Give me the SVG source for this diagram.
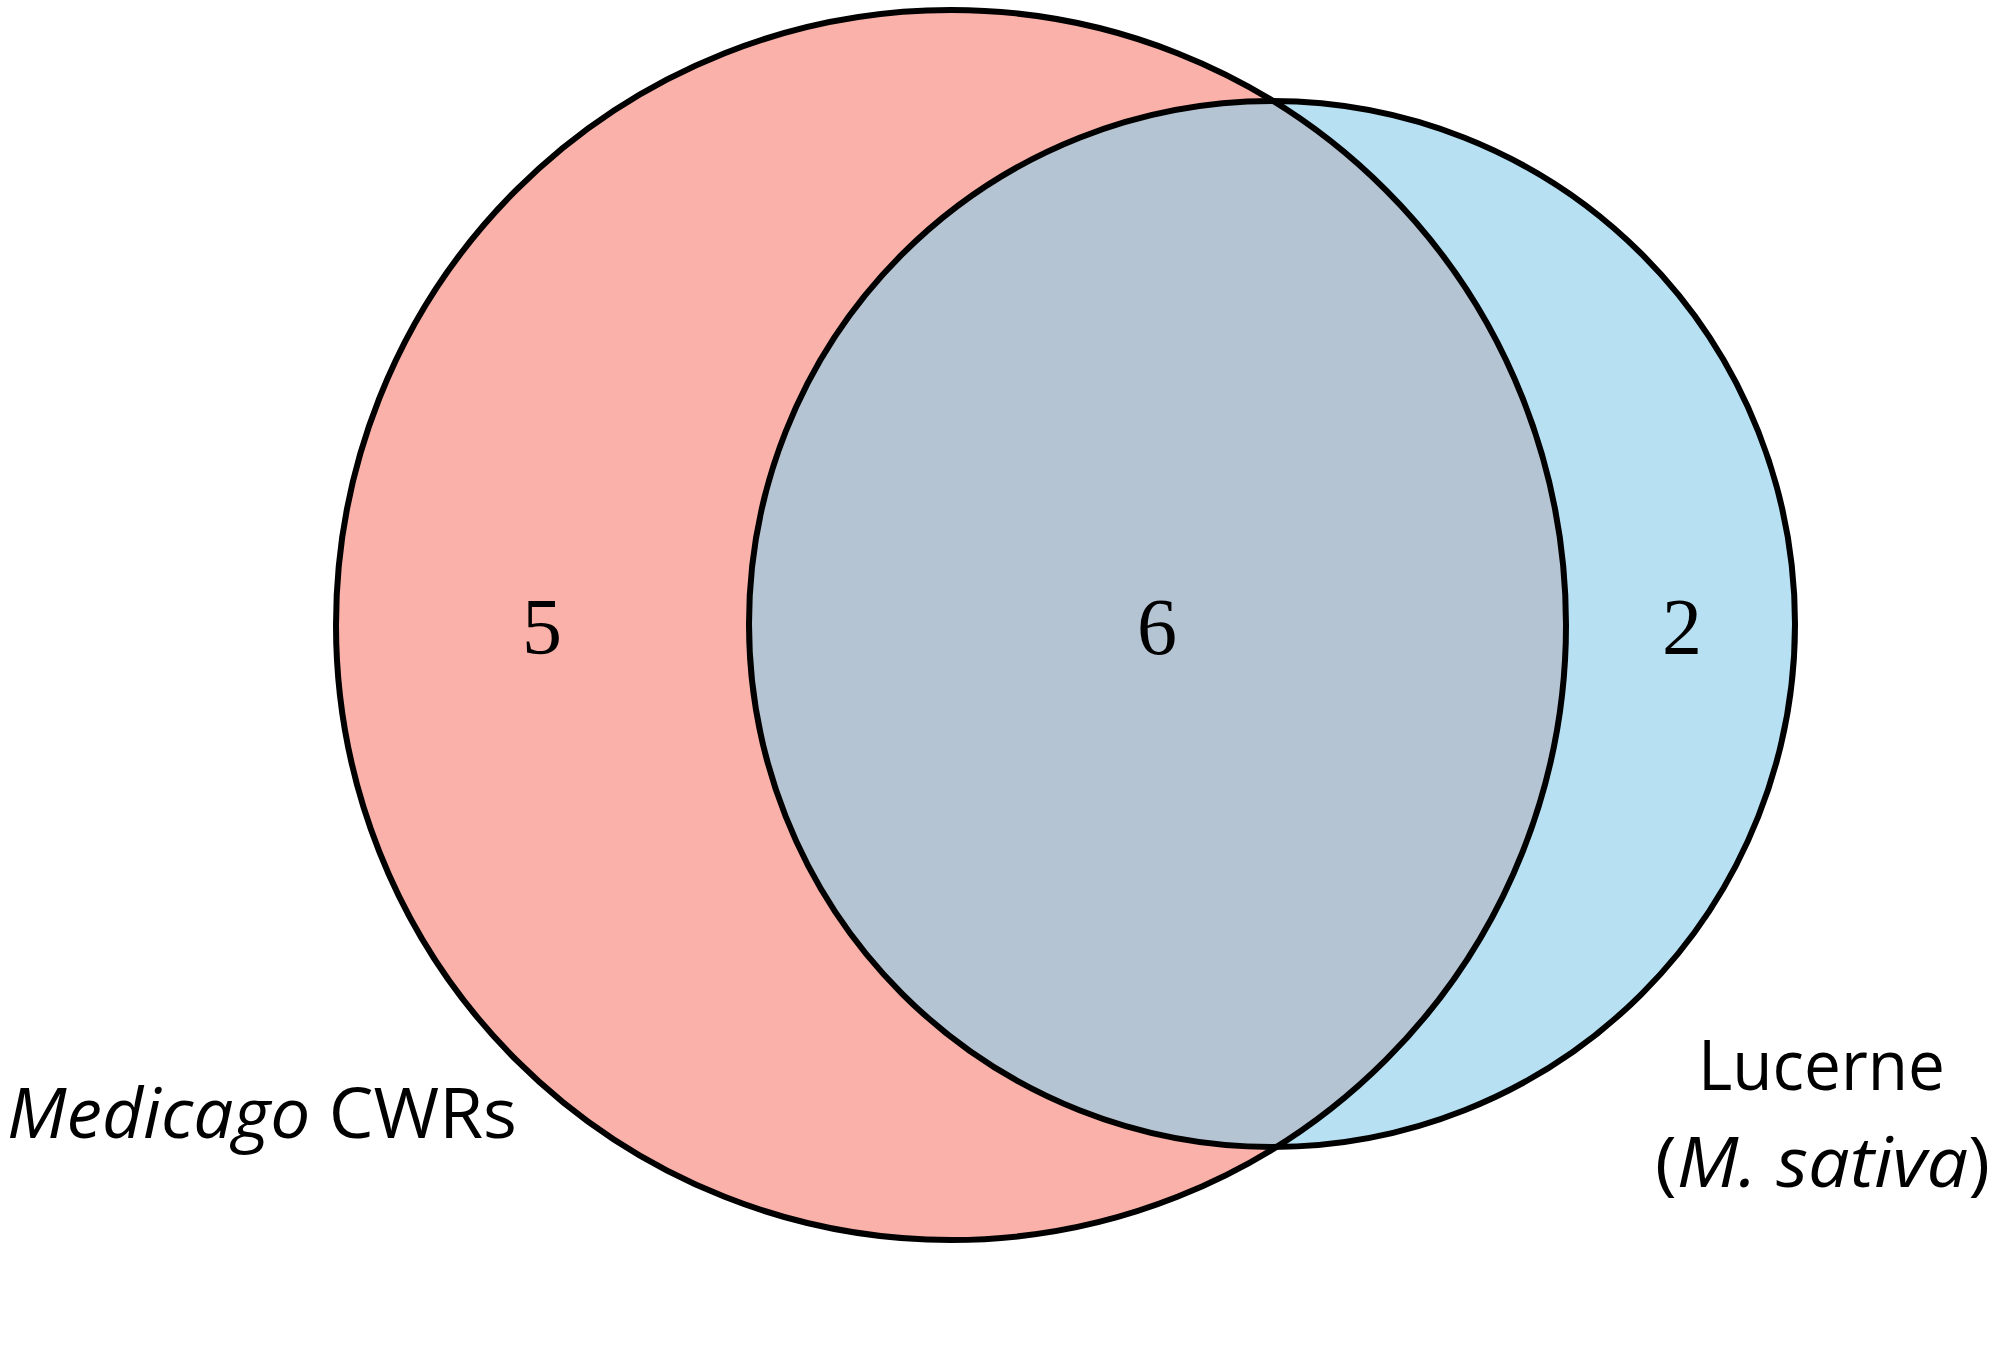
<svg xmlns="http://www.w3.org/2000/svg" width="1995" height="1362" viewBox="0 0 1995 1362">
<style>
.outline{fill:none;stroke:#000;stroke-width:6}
.num{font-family:"Liberation Serif","Times New Roman",serif;font-size:80px;fill:#000;text-anchor:middle}
.lbl{font-family:"Open Sans","Liberation Sans",sans-serif;font-size:70px;fill:#000}
</style>
<defs>
<clipPath id="clipRed"><circle cx="951" cy="625" r="615"/></clipPath>
</defs>
<rect width="1995" height="1362" fill="#fff"/>
<g id="set-medicago">
<circle cx="951" cy="625" r="615" fill="#F9B1A9"/>
</g>
<g id="set-lucerne">
<circle cx="1272" cy="624" r="523" fill="#B7E1F3"/>
</g>
<g id="set-overlap">
<circle cx="1272" cy="624" r="523" fill="#B5C4D2" clip-path="url(#clipRed)"/>
</g>
<g id="outlines">
<circle class="outline" cx="951" cy="625" r="615"/>
<circle class="outline" cx="1272" cy="624" r="523"/>
</g>
<g id="counts">
<text class="num" x="542" y="654">5</text>
<text class="num" x="1157" y="654">6</text>
<text class="num" x="1682" y="654">2</text>
</g>
<g id="labels">
<text class="lbl" x="7" y="1138" textLength="510" lengthAdjust="spacingAndGlyphs"><tspan font-style="italic">Medicago</tspan> CWRs</text>
<text class="lbl" x="1698" y="1090" textLength="247" lengthAdjust="spacingAndGlyphs">Lucerne</text>
<text class="lbl" x="1655" y="1187" textLength="335" lengthAdjust="spacingAndGlyphs">(<tspan font-style="italic">M. sativa</tspan>)</text>
</g>
</svg>
